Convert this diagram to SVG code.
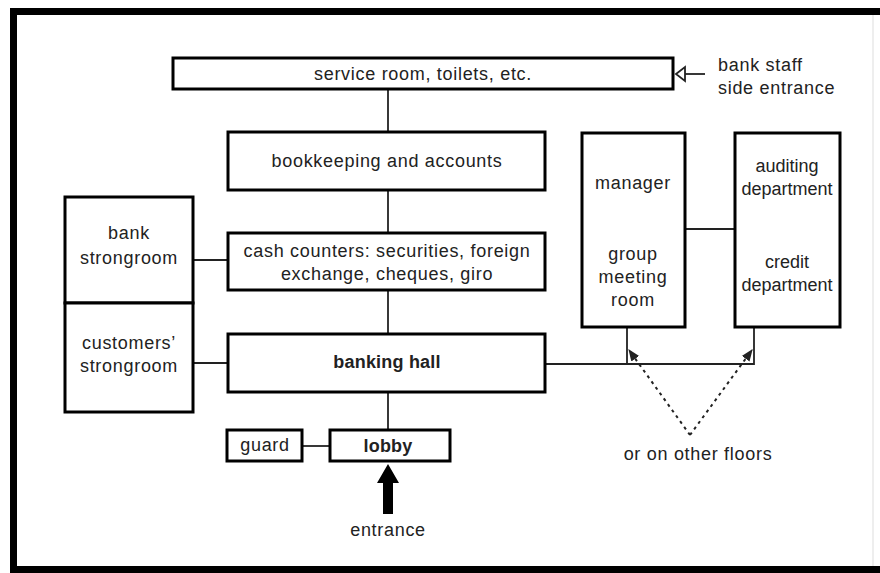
<svg xmlns="http://www.w3.org/2000/svg" width="880" height="573" viewBox="0 0 880 573">
<style>
.box{fill:#fff;stroke:#000;stroke-width:3}
.ln{fill:none;stroke:#222;stroke-width:1.8}
.dot{fill:none;stroke:#222;stroke-width:2;stroke-dasharray:3 4}
text{font-family:"Liberation Sans","DejaVu Sans",sans-serif;font-size:18px;letter-spacing:0.7px;fill:#222;text-anchor:middle}
.b{font-weight:bold;letter-spacing:0.2px}
.l{text-anchor:start}
</style>
<defs>
<marker id="dh" viewBox="0 0 10 10" refX="9" refY="5" markerWidth="6" markerHeight="6" orient="auto"><path d="M0,1 L10,5 L0,9 z" fill="#222"/></marker>
</defs>
<rect x="0" y="0" width="880" height="573" fill="#fff"/>
<g id="frame">
<path d="M13.5,573 V11.5 H880" fill="none" stroke="#000" stroke-width="7"/>
<line x1="10" y1="569.5" x2="880" y2="569.5" stroke="#000" stroke-width="7"/>
<line x1="873" y1="15" x2="873" y2="566" stroke="#ddd" stroke-width="1"/>
</g>
<g id="connectors">
<line class="ln" x1="388" y1="89" x2="388" y2="132"/>
<line class="ln" x1="388" y1="190" x2="388" y2="233"/>
<line class="ln" x1="388" y1="290" x2="388" y2="334"/>
<line class="ln" x1="388" y1="392" x2="388" y2="429"/>
<line class="ln" x1="193" y1="260" x2="228" y2="260"/>
<line class="ln" x1="193" y1="363" x2="228" y2="363"/>
<line class="ln" x1="302" y1="446" x2="330" y2="446"/>
<line class="ln" x1="685" y1="229" x2="735" y2="229"/>
<path class="ln" d="M545,364 H754 V327 M627,327 V364"/>
<path d="M676,74 L685,67 L685,81 z" fill="#fff" stroke="#222" stroke-width="1.8"/>
<line class="ln" x1="685" y1="74" x2="705" y2="74"/>
<path d="M377,483 L388,464 L399,483 H393 V514 H383 V483 z" fill="#000"/>
<line class="dot" x1="690" y1="435" x2="629" y2="350" marker-end="url(#dh)"/>
<line class="dot" x1="690" y1="435" x2="752" y2="350" marker-end="url(#dh)"/>
</g>
<g id="service">
<rect class="box" x="173" y="58" width="500" height="31"/>
<text x="423" y="80">service room, toilets, etc.</text>
</g>
<g id="sideentrance">
<text class="l" x="718" y="71">bank staff</text>
<text class="l" x="718" y="94">side entrance</text>
</g>
<g id="bookkeeping">
<rect class="box" x="228" y="132" width="317" height="58"/>
<text x="387" y="167">bookkeeping and accounts</text>
</g>
<g id="cash">
<rect class="box" x="228" y="233" width="317" height="57"/>
<text x="387" y="257">cash counters: securities, foreign</text>
<text x="387" y="280">exchange, cheques, giro</text>
</g>
<g id="hall">
<rect class="box" x="228" y="334" width="317" height="58"/>
<text class="b" x="387" y="368">banking hall</text>
</g>
<g id="bankstrong">
<rect class="box" x="65" y="197" width="128" height="106"/>
<text x="129" y="239">bank</text>
<text x="129" y="264">strongroom</text>
</g>
<g id="custstrong">
<rect class="box" x="65" y="303" width="128" height="109"/>
<text x="129" y="349">customers’</text>
<text x="129" y="372">strongroom</text>
</g>
<g id="guard">
<rect class="box" x="227" y="430" width="75" height="31"/>
<text x="265" y="451">guard</text>
</g>
<g id="lobby">
<rect class="box" x="330" y="430" width="120" height="31"/>
<text class="b" x="388" y="452">lobby</text>
</g>
<g id="entrance">
<text x="388" y="536">entrance</text>
</g>
<g id="manager">
<rect class="box" x="582" y="133" width="103" height="194"/>
<text x="633" y="189">manager</text>
<text x="633" y="260">group</text>
<text x="633" y="283">meeting</text>
<text x="633" y="306">room</text>
</g>
<g id="auditing">
<rect class="box" x="735" y="133" width="105" height="194"/>
<text x="787" y="172" style="letter-spacing:0">auditing</text>
<text x="787" y="195" style="letter-spacing:0">department</text>
<text x="787" y="268" style="letter-spacing:0">credit</text>
<text x="787" y="291" style="letter-spacing:0">department</text>
</g>
<g id="floors">
<text x="698" y="460">or on other floors</text>
</g>
</svg>
